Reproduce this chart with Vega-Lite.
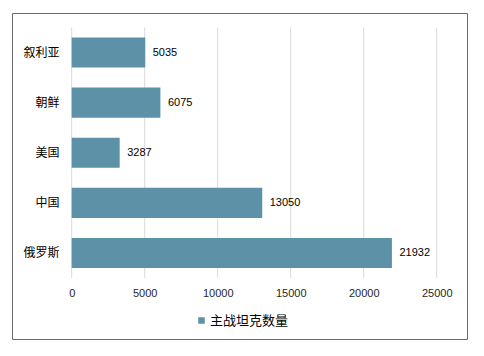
{
  "$schema": "https://vega.github.io/schema/vega-lite/v6.json",
  "width": 455,
  "height": 326,
  "autosize": {"type": "none"},
  "padding": {"left": 12, "top": 13, "right": 17, "bottom": 17},
  "background": "white",
  "config": {
    "view": {"stroke": "#6b6b6b", "strokeWidth": 1},
    "font": "Noto Sans CJK SC"
  },
  "datasets": {
    "tanks": [
      {"country": "叙利亚", "tanks": 5035, "series": "主战坦克数量"},
      {"country": "朝鲜", "tanks": 6075, "series": "主战坦克数量"},
      {"country": "美国", "tanks": 3287, "series": "主战坦克数量"},
      {"country": "中国", "tanks": 13050, "series": "主战坦克数量"},
      {"country": "俄罗斯", "tanks": 21932, "series": "主战坦克数量"}
    ],
    "ticks": [
      {"v": 0}, {"v": 5000}, {"v": 10000}, {"v": 15000}, {"v": 20000}, {"v": 25000}
    ]
  },
  "layer": [
    {
      "data": {"name": "ticks"},
      "mark": {"type": "rule", "color": "#d9d9d9", "strokeWidth": 1},
      "encoding": {
        "x": {"field": "v", "type": "quantitative"},
        "y": {"datum": "叙利亚", "type": "nominal", "bandPosition": 0},
        "y2": {"datum": "俄罗斯", "bandPosition": 1}
      }
    },
    {
      "data": {"name": "tanks"},
      "mark": {"type": "bar", "height": {"band": 0.6}},
      "encoding": {
        "y": {
          "field": "country",
          "type": "nominal",
          "sort": null,
          "scale": {"domain": ["叙利亚", "朝鲜", "美国", "中国", "俄罗斯"], "paddingInner": 0, "paddingOuter": 0.753, "align": 0.192},
          "axis": {
            "title": null,
            "domain": false,
            "ticks": false,
            "tickSize": 0,
            "labelPadding": 0,
            "offset": -47,
            "labelFontSize": 12,
            "labelColor": "#000000",
            "labelFont": "Noto Sans CJK SC",
            "grid": false
          }
        },
        "x": {
          "field": "tanks",
          "type": "quantitative",
          "scale": {"domain": [-4089, 27075], "nice": false, "zero": false},
          "axis": {
            "title": null,
            "values": [0, 5000, 10000, 15000, 20000, 25000],
            "grid": false,
            "domain": false,
            "ticks": false,
            "tickSize": 0,
            "labelPadding": 0,
            "labelBaseline": "middle",
            "offset": -45.5,
            "labelFontSize": 11,
            "labelFont": "Liberation Sans",
            "labelColor": "#262626",
            "format": "d",
            "labelFlush": false,
            "labelOverlap": false
          }
        },
        "color": {
          "field": "series",
          "type": "nominal",
          "scale": {"range": ["#5d91a8"]},
          "legend": {
            "title": null,
            "orient": "none",
            "legendX": 183,
            "legendY": 301,
            "padding": 0,
            "symbolType": "square",
            "symbolSize": 42,
            "symbolStrokeWidth": 0,
            "labelOffset": 2,
            "labelFontSize": 13,
            "labelFont": "Noto Sans CJK SC",
            "labelColor": "#000000"
          }
        }
      }
    },
    {
      "data": {"name": "tanks"},
      "mark": {"type": "text", "align": "left", "baseline": "middle", "dx": 7.5, "fontSize": 11, "font": "Liberation Sans", "color": "#000000"},
      "encoding": {
        "y": {"field": "country", "type": "nominal", "sort": null},
        "x": {"field": "tanks", "type": "quantitative"},
        "text": {"field": "tanks", "type": "quantitative", "format": "d"}
      }
    }
  ]
}
